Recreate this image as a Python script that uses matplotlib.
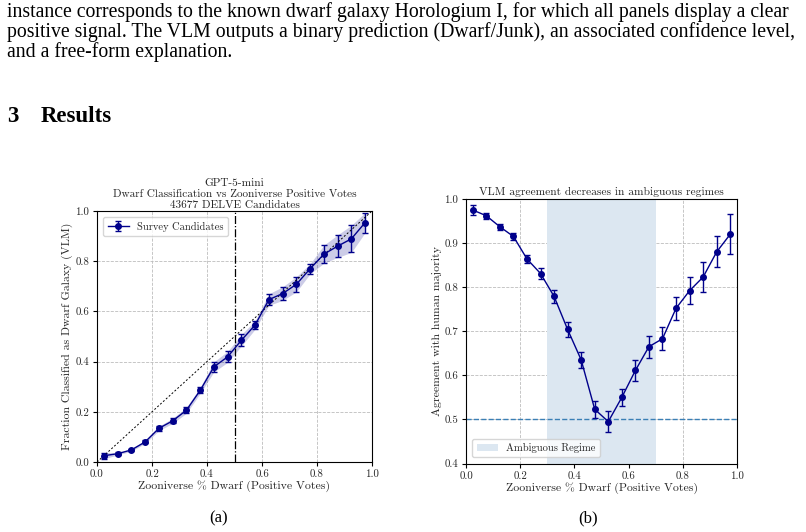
import numpy as np
import matplotlib
matplotlib.use('Agg')
import matplotlib.pyplot as plt

# bin centres (Zooniverse fraction of positive votes)
x_bins = [0.025, 0.075, 0.125, 0.175, 0.225, 0.275, 0.325, 0.375, 0.425, 0.475,
          0.525, 0.575, 0.625, 0.675, 0.725, 0.775, 0.825, 0.875, 0.925, 0.975]

# panel (a): fraction classified as dwarf by the VLM
frac_dwarf = [0.025, 0.033, 0.048, 0.080, 0.134, 0.164, 0.206, 0.285, 0.379, 0.419,
              0.485, 0.546, 0.647, 0.671, 0.708, 0.770, 0.828, 0.860, 0.889, 0.954]
frac_err = [0.012, 0.005, 0.005, 0.006, 0.009, 0.010, 0.012, 0.012, 0.020, 0.022,
            0.023, 0.017, 0.023, 0.027, 0.030, 0.020, 0.036, 0.045, 0.054, 0.040]

# panel (b): agreement with human majority
agree = [0.975, 0.962, 0.937, 0.915, 0.864, 0.831, 0.779, 0.704, 0.635, 0.523,
         0.495, 0.550, 0.611, 0.665, 0.683, 0.752, 0.792, 0.823, 0.880, 0.920]
agree_err = [0.011, 0.007, 0.007, 0.007, 0.010, 0.013, 0.015, 0.016, 0.019, 0.019,
             0.024, 0.020, 0.023, 0.025, 0.026, 0.026, 0.031, 0.035, 0.035, 0.045]

body_lines = [
    "instance corresponds to the known dwarf galaxy Horologium I, for which all panels display a clear",
    "positive signal. The VLM outputs a binary prediction (Dwarf/Junk), an associated confidence level,",
    "and a free-form explanation.",
]

NAVY = '#00008b'
CM = 'cmr10'
TXT = '#262626'

fig = plt.figure(figsize=(8.06, 5.32), dpi=100)
H = 532.0

# page text
for i, line in enumerate(body_lines):
    fig.text(7 / 806, 1 - (16.5 + i * 20) / H, line, family='Liberation Serif',
             fontsize=14.2, va='baseline', ha='left')
fig.text(7 / 806, 1 - 122.5 / H, "3", family='Liberation Serif', fontsize=16.5,
         weight='bold', va='baseline')
fig.text(41 / 806, 1 - 122.5 / H, "Results", family='Liberation Serif', fontsize=16.5,
         weight='bold', va='baseline')
fig.text(219 / 806, 1 - 522 / H, "(a)", family='Liberation Serif', fontsize=12,
         ha='center', va='baseline')
fig.text(588 / 806, 1 - 522 / H, "(b)", family='Liberation Serif', fontsize=12,
         ha='center', va='baseline')

xb = np.array(x_bins)


def style(ax):
    ax.grid(True, ls='--', color='#bdbdbd', lw=0.6)
    ax.set_axisbelow(True)
    ax.set_xlim(0, 1)
    ax.set_xticks(np.arange(0, 1.01, 0.2))
    ax.tick_params(labelsize=7.8, length=3, width=0.8, labelcolor=TXT, pad=2.5)
    for lab in ax.get_xticklabels() + ax.get_yticklabels():
        lab.set_fontfamily(CM)
    ax.xaxis.set_major_formatter(matplotlib.ticker.FormatStrFormatter('%.1f'))
    ax.yaxis.set_major_formatter(matplotlib.ticker.FormatStrFormatter('%.1f'))


# panel (a)
ax1 = fig.add_axes([97 / 806, 1 - 462 / H, 275 / 806, 251 / H])
fa = np.array(frac_dwarf)
fe = np.array(frac_err)
ax1.fill_between(xb, fa - fe, fa + fe, color=NAVY, alpha=0.2, lw=0)
ax1.errorbar(xb, fa, yerr=fe, color=NAVY, marker='o', ms=4, lw=1, capsize=2.5,
             elinewidth=1, label='Survey Candidates')
ax1.plot([0, 1], [0, 1], 'k--', lw=0.7, dashes=(2, 2))
ax1.axvline(0.5, color='k', ls='-.', lw=0.9)
ax1.set_ylim(0, 1)
ax1.set_yticks(np.arange(0, 1.01, 0.2))
style(ax1)
ax1.set_title("GPT-5-mini\nDwarf Classification vs Zooniverse Positive Votes\n43677 DELVE Candidates",
              fontsize=8.1, family=CM, linespacing=1.15, pad=2.5, color=TXT)
ax1.set_xlabel("Zooniverse % Dwarf (Positive Votes)", fontsize=8.5, family=CM,
               labelpad=1, color=TXT)
ax1.set_ylabel("Fraction Classified as Dwarf Galaxy (VLM)", fontsize=8.5, family=CM,
               labelpad=1.5, color=TXT)
ax1.legend(loc='upper left', prop={'family': CM, 'size': 7.6}, fancybox=True,
           labelcolor=TXT, borderaxespad=0.6)

# panel (b)
ax2 = fig.add_axes([466 / 806, 1 - 463.5 / H, 271 / 806, 264.5 / H])
ax2.axvspan(0.3, 0.7, color='#dce7f1', lw=0, label='Ambiguous Regime')
ax2.axhline(0.5, color='#3a7fb5', ls='--', lw=1)
ax2.errorbar(xb, agree, yerr=agree_err, color=NAVY, marker='o', ms=4, lw=1,
             capsize=2.5, elinewidth=1)
ax2.set_ylim(0.4, 1.0)
ax2.set_yticks(np.arange(0.4, 1.01, 0.1))
style(ax2)
ax2.set_title("VLM agreement decreases in ambiguous regimes", fontsize=8.3, family=CM,
              pad=3, color=TXT)
ax2.set_xlabel("Zooniverse % Dwarf (Positive Votes)", fontsize=8.5, family=CM,
               labelpad=1, color=TXT)
ax2.set_ylabel("Agreement with human majority", fontsize=8.5, family=CM,
               labelpad=2, color=TXT)
ax2.legend(loc='lower left', prop={'family': CM, 'size': 7.6}, fancybox=True,
           labelcolor=TXT, borderaxespad=0.6)

plt.savefig('out.png', dpi=100)
